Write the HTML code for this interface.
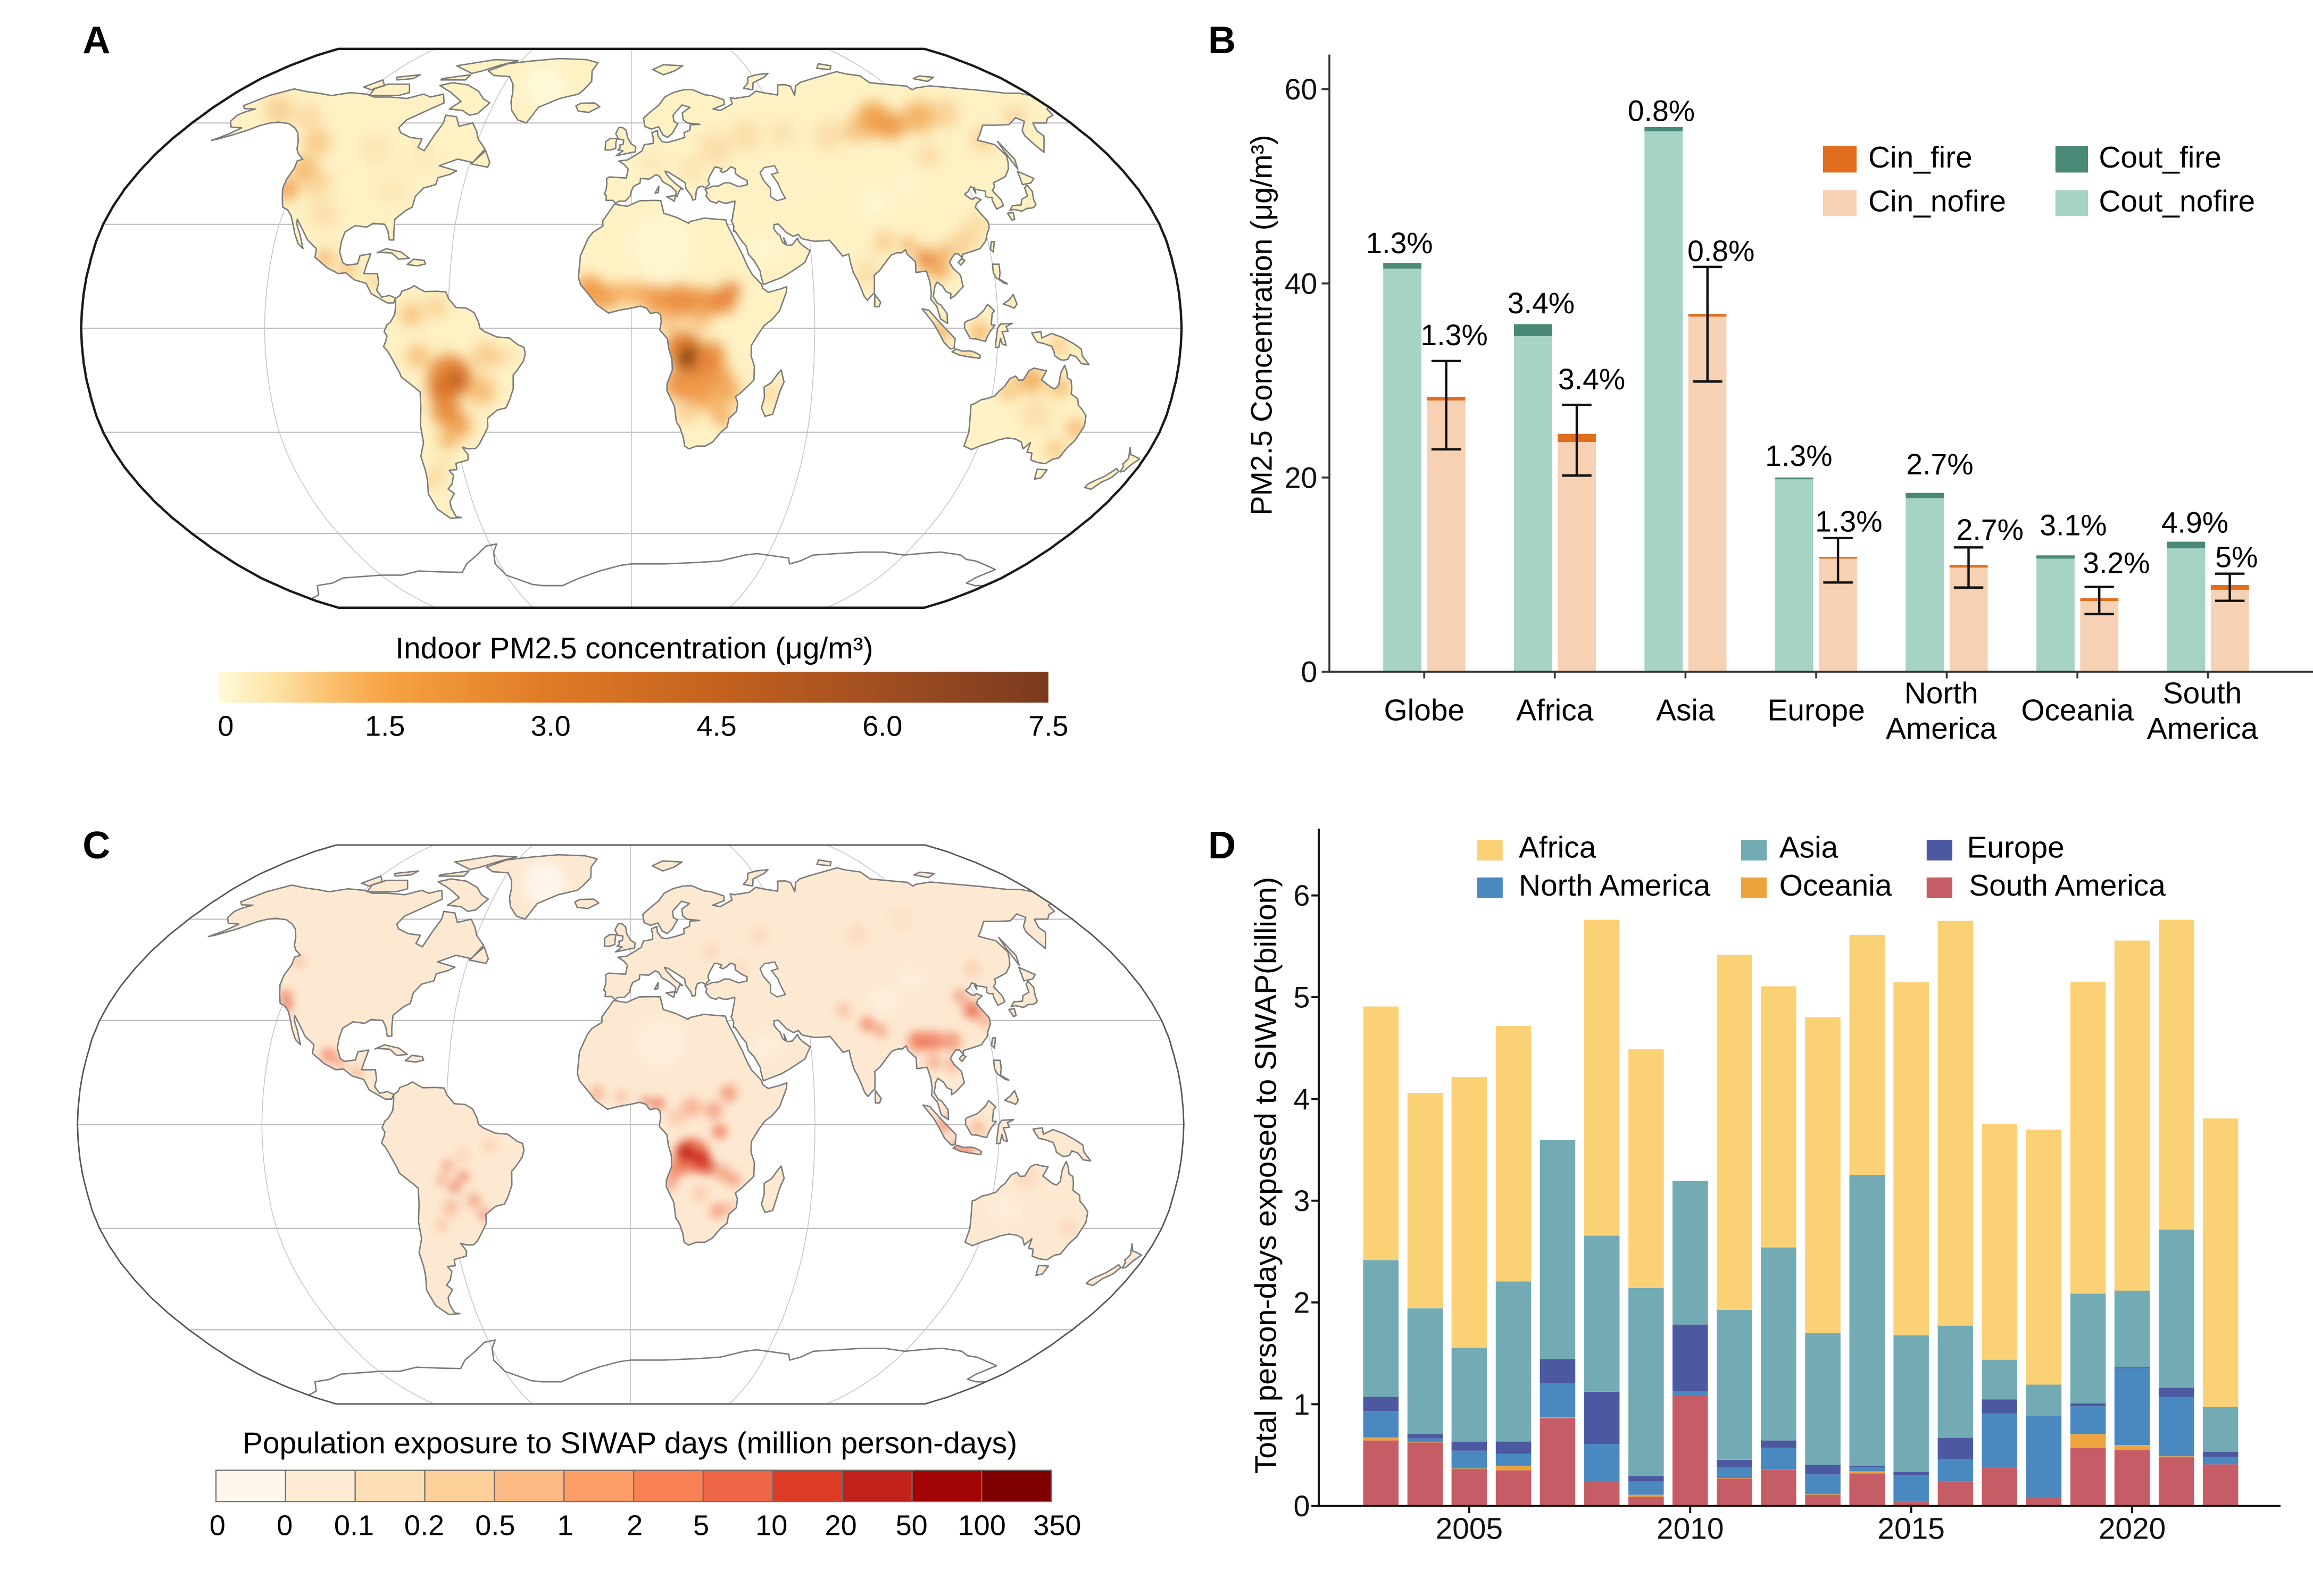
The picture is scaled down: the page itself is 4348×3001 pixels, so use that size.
<!DOCTYPE html>
<html>
<head>
<meta charset="utf-8">
<style>
html,body{margin:0;padding:0;background:#ffffff;}
svg{display:block;}
text{font-family:"Liberation Sans",Arial,sans-serif;}
</style>
</head>
<body>
<svg id="s" xmlns="http://www.w3.org/2000/svg" width="4348" height="3001" viewBox="0 0 1568 1082.25" preserveAspectRatio="none">
<defs>
<linearGradient id="cbA" x1="0" y1="0" x2="1" y2="0">
<stop offset="0" stop-color="#FFFBD8"/>
<stop offset="0.07" stop-color="#FDE2A6"/>
<stop offset="0.14" stop-color="#FABD6A"/>
<stop offset="0.2" stop-color="#F6A445"/>
<stop offset="0.3" stop-color="#EB8E33"/>
<stop offset="0.4" stop-color="#DF7A26"/>
<stop offset="0.6" stop-color="#C4621F"/>
<stop offset="0.8" stop-color="#A04E21"/>
<stop offset="1" stop-color="#7A3A1E"/>
</linearGradient>
<filter id="blurA" filterUnits="userSpaceOnUse" x="0" y="0" width="1568" height="1082"><feGaussianBlur stdDeviation="4.5"/></filter>
<filter id="blurC" filterUnits="userSpaceOnUse" x="0" y="0" width="1568" height="1082"><feGaussianBlur stdDeviation="3.2"/></filter>
</defs>
<rect x="0" y="0" width="1568" height="1082.25" fill="#ffffff"/>
<g id="mapA"></g>
<g id="mapC"></g>
<g id="barsB"></g>
<g id="barsD"></g>

<text x="56" y="36" font-size="26" font-weight="bold" fill="#000">A</text>
<text x="819" y="36" font-size="26" font-weight="bold" fill="#000">B</text>
<text x="56" y="582" font-size="26" font-weight="bold" fill="#000">C</text>
<text x="819" y="582" font-size="26" font-weight="bold" fill="#000">D</text>

<text x="430" y="446.5" font-size="20.5" text-anchor="middle" fill="#000">Indoor PM2.5 concentration (μg/m³)</text>
<rect x="148.4" y="455.5" width="562.3" height="21" fill="url(#cbA)"/>
<g font-size="19.5" text-anchor="middle" fill="#000">
<text x="153" y="499">0</text>
<text x="261" y="499">1.5</text>
<text x="373.3" y="499">3.0</text>
<text x="485.8" y="499">4.5</text>
<text x="598.2" y="499">6.0</text>
<text x="710.7" y="499">7.5</text>
</g>

<text x="427" y="985.5" font-size="20.5" text-anchor="middle" fill="#000">Population exposure to SIWAP days (million person-days)</text>
<g stroke="#6e6e6e" stroke-width="0.8">
<rect x="146.4" y="997" width="47.19" height="21.2" fill="#FFF7EC"/>
<rect x="193.59" y="997" width="47.19" height="21.2" fill="#FEEBD3"/>
<rect x="240.78" y="997" width="47.19" height="21.2" fill="#FDDFB5"/>
<rect x="287.97" y="997" width="47.19" height="21.2" fill="#FDD09A"/>
<rect x="335.16" y="997" width="47.19" height="21.2" fill="#FCBB85"/>
<rect x="382.35" y="997" width="47.19" height="21.2" fill="#FC9D68"/>
<rect x="429.54" y="997" width="47.19" height="21.2" fill="#F78154"/>
<rect x="476.73" y="997" width="47.19" height="21.2" fill="#EE6548"/>
<rect x="523.92" y="997" width="47.19" height="21.2" fill="#DC3C25"/>
<rect x="571.11" y="997" width="47.19" height="21.2" fill="#C0211A"/>
<rect x="618.3" y="997" width="47.19" height="21.2" fill="#A30404"/>
<rect x="665.49" y="997" width="47.19" height="21.2" fill="#7F0000"/>
</g>
<g font-size="19.5" text-anchor="middle" fill="#000">
<text x="147.4" y="1041">0</text>
<text x="193" y="1041">0</text>
<text x="240" y="1041">0.1</text>
<text x="287.6" y="1041">0.2</text>
<text x="335.7" y="1041">0.5</text>
<text x="383.2" y="1041">1</text>
<text x="430.3" y="1041">2</text>
<text x="475.3" y="1041">5</text>
<text x="523" y="1041">10</text>
<text x="570" y="1041">20</text>
<text x="618" y="1041">50</text>
<text x="665.6" y="1041">100</text>
<text x="716.7" y="1041">350</text>
</g>

<text transform="translate(862,220.5) rotate(-90)" font-size="20" text-anchor="middle" fill="#000">PM2.5 Concentration (μg/m³)</text>
<g font-size="20" text-anchor="end" fill="#111">
<text x="893" y="67.5">60</text>
<text x="893" y="199.2">40</text>
<text x="893" y="330.8">20</text>
<text x="893" y="462.5">0</text>
</g>
<g font-size="20.5" text-anchor="middle" fill="#000">
<text x="965.5" y="488.5">Globe</text>
<text x="1054" y="488.5">Africa</text>
<text x="1142.6" y="488.5">Asia</text>
<text x="1231.2" y="488.5">Europe</text>
<text x="1316" y="477">North</text>
<text x="1316" y="501">America</text>
<text x="1408.3" y="488.5">Oceania</text>
<text x="1493" y="477">South</text>
<text x="1493" y="501">America</text>
</g>
<g font-size="20" text-anchor="middle" fill="#000">
<text x="948.6" y="171.6">1.3%</text>
<text x="985.8" y="234">1.3%</text>
<text x="1044.7" y="212.4">3.4%</text>
<text x="1079" y="264">3.4%</text>
<text x="1126.2" y="82">0.8%</text>
<text x="1166.7" y="177">0.8%</text>
<text x="1219.4" y="316">1.3%</text>
<text x="1253.3" y="360.5">1.3%</text>
<text x="1315" y="321.7">2.7%</text>
<text x="1349" y="366">2.7%</text>
<text x="1405.5" y="362.9">3.1%</text>
<text x="1434.7" y="388.6">3.2%</text>
<text x="1487.9" y="361.2">4.9%</text>
<text x="1516.2" y="384.6">5%</text>
</g>
<rect x="1235.8" y="99.1" width="22.8" height="17.9" fill="#E06E1E"/>
<rect x="1235.8" y="128.9" width="22.8" height="17.6" fill="#F7D1B3"/>
<rect x="1393.4" y="99.1" width="22.1" height="17.9" fill="#4A8878"/>
<rect x="1393.4" y="128.9" width="22.1" height="17.6" fill="#A6D3C3"/>
<g font-size="20.5" fill="#000">
<text x="1266.5" y="113.6">Cin_fire</text>
<text x="1266.5" y="143.4">Cin_nofire</text>
<text x="1422.8" y="113.6">Cout_fire</text>
<text x="1422.8" y="143.4">Cout_nofire</text>
</g>

<text transform="translate(865,797) rotate(-90)" font-size="20.5" text-anchor="middle" fill="#000">Total person-days exposed to SIWAP(billion)</text>
<g font-size="20" text-anchor="end" fill="#111">
<text x="888" y="1028.2">0</text>
<text x="888" y="959.2">1</text>
<text x="888" y="890.2">2</text>
<text x="888" y="821.2">3</text>
<text x="888" y="752.2">4</text>
<text x="888" y="683.2">5</text>
<text x="888" y="614.2">6</text>
</g>
<g font-size="20.5" text-anchor="middle" fill="#111">
<text x="996" y="1043.5">2005</text>
<text x="1145.8" y="1043.5">2010</text>
<text x="1295.6" y="1043.5">2015</text>
<text x="1445.4" y="1043.5">2020</text>
</g>
<rect x="1001.3" y="569.5" width="17.4" height="14" fill="#FBD176"/>
<rect x="1180.3" y="569.5" width="17.4" height="14" fill="#73ABB5"/>
<rect x="1306.1" y="569.5" width="17.4" height="14" fill="#4C59A1"/>
<rect x="1001.3" y="595" width="17.4" height="14" fill="#4A89BF"/>
<rect x="1180.3" y="595" width="17.4" height="14" fill="#EDA43F"/>
<rect x="1306.1" y="595" width="17.4" height="14" fill="#C65D66"/>
<g font-size="20.5" fill="#000">
<text x="1029.6" y="581.5">Africa</text>
<text x="1206.2" y="581.5">Asia</text>
<text x="1333.4" y="581.5">Europe</text>
<text x="1029.6" y="607.3">North America</text>
<text x="1206.2" y="607.3">Oceania</text>
<text x="1334.8" y="607.3">South America</text>
</g>
</svg>
<script>
(function(){
var XT=[1,0.9986,0.9954,0.99,0.9822,0.973,0.96,0.9427,0.9216,0.8962,0.8679,0.835,0.7986,0.7597,0.7186,0.6732,0.6213,0.5722,0.5322];
var YT=[0,0.062,0.124,0.186,0.248,0.31,0.372,0.434,0.4958,0.5571,0.6176,0.6769,0.7346,0.7903,0.8435,0.8936,0.9394,0.9761,1];
function mk(cx,cy,hw,ph){
  return function(lon,lat){
    var a=Math.min(Math.abs(lat),90);
    var i=Math.min(Math.floor(a/5),17);
    var t=(a-5*i)/5;
    var x=XT[i]+(XT[i+1]-XT[i])*t;
    var y=YT[i]+(YT[i+1]-YT[i])*t;
    return [cx+hw*x*lon/180, cy-(lat<0?-1:1)*ph*y];
  };
}
function f(v){return v.toFixed(1);}
function pathOf(P,pts,close){
  var s='';
  for(var k=0;k<pts.length;k++){var q=P(pts[k][0],pts[k][1]);s+=(k?'L':'M')+f(q[0])+','+f(q[1]);}
  return s+(close===false?'':'Z');
}
var LAND=[
[[-168,65.6],[-163,69],[-156,71.3],[-148,70.3],[-141,69.7],[-135,69],[-128,70],[-120,69.5],[-115,68.5],[-108,68.5],[-100,68],[-94,69.5],[-90,68.5],[-85,69.5],[-82,66.5],[-87,64],[-93,61],[-94,58.5],[-92,57],[-87,55.5],[-82,55],[-82,52.5],[-79,51.5],[-78,56],[-77,60],[-78,62.5],[-73,62],[-70,59],[-65,60],[-62,57.5],[-60,55],[-56,52],[-59,48],[-65,49],[-71,47],[-64,45.5],[-66,44.5],[-70,43.5],[-70,41.5],[-74,40.5],[-76,38],[-76,35],[-78,34],[-81,31.5],[-80.5,28],[-80,25.5],[-81.5,25.5],[-82.5,28],[-84,30],[-88,30.3],[-90,29.2],[-94,29.6],[-97,27.8],[-97.5,25],[-97.5,22],[-96,19],[-94.5,18.2],[-91,18.6],[-90.5,21],[-87,21.5],[-88,18],[-88.5,15.8],[-84,15.8],[-83.3,13],[-83.8,11],[-82,9],[-79.5,9.5],[-77.4,8.7],[-78,7.3],[-80,7.3],[-81.5,8],[-85.5,10],[-87.5,13],[-91.5,14],[-94.5,16],[-97,15.8],[-101,17.5],[-105.5,20.5],[-105.5,23],[-109,25.5],[-112.5,29.5],[-114.5,31.5],[-114,30],[-112,27],[-110,23],[-112,24.5],[-114,27.5],[-115,29.5],[-117,32.5],[-119,34.2],[-121,35],[-122.5,37.5],[-124,40.3],[-124.5,43],[-124,46.3],[-124.7,48.4],[-123,49],[-126,50.5],[-128,52],[-130,54.5],[-133,57],[-136,58.5],[-140,59.8],[-145,60.3],[-148,60],[-151,59.2],[-154,57.8],[-157,56.6],[-162,55],[-164,54.6],[-160,56.5],[-157.5,58.5],[-162,58.7],[-165,60.5],[-165.5,62.5],[-164,63.5],[-161,64.5],[-166,64.6]],
[[-62,66.5],[-65,63],[-68,62.5],[-72,64],[-78,64.5],[-75,67],[-82,70],[-90,72.5],[-85,73.5],[-77,72.7],[-70,70.5],[-66,68]],
[[-118,69],[-105,69],[-101,70],[-105,73],[-115,73],[-119,71.5]],
[[-125,72],[-120,74.5],[-116,72.5],[-120,71]],
[[-115,75.5],[-105,76.5],[-106,75],[-113,74.5]],
[[-92,75],[-80,76.5],[-80,74.5],[-92,74.5]],
[[-80,77],[-92,80],[-75,83],[-62,82.5],[-70,80],[-76,78]],
[[-73,78],[-66,81],[-55,82.3],[-40,83.5],[-25,83],[-18,81.5],[-20,78],[-19,74],[-22,71],[-24,69.5],[-32,68],[-40,65],[-43,60],[-47,61],[-51,64],[-53,67],[-54,70],[-56,73],[-60,75.8],[-68,76.2]],
[[-59.5,47.6],[-53,46.6],[-52.7,48],[-55.5,51.5],[-57,50]],
[[-85,21.8],[-82,23],[-77,22],[-74,20.2],[-77.5,19.9],[-80,21.7],[-84,21.9]],
[[-74.5,18.4],[-72.5,19.9],[-69,19.6],[-68.4,18.6],[-71,18]],
[[-77.4,8.7],[-76,9.5],[-75.5,10.7],[-73,11.5],[-71.5,12.3],[-70,11.5],[-68,10.6],[-64,10.7],[-61,10.5],[-60,8.5],[-57.5,6],[-54,5.8],[-51.5,4.5],[-50,1.8],[-49.5,0],[-48,-1],[-44,-2.5],[-40,-2.8],[-37,-4.8],[-35.2,-5.5],[-34.8,-7.5],[-35.5,-9.5],[-37.5,-12],[-39,-13.5],[-39.2,-17.5],[-40.5,-20.5],[-42,-23],[-45,-23.6],[-48.5,-26],[-48.7,-28.5],[-50.5,-31],[-52.5,-33.5],[-54,-34.7],[-56.5,-34.8],[-58.5,-34.3],[-57,-36.5],[-57.5,-38],[-62,-39],[-62.2,-40.8],[-65,-41],[-64,-42.5],[-65.5,-45],[-67.5,-46.5],[-65.8,-47.8],[-68.5,-50.2],[-69,-52.2],[-68.5,-54.8],[-66.5,-55],[-71,-55.3],[-74.5,-52.5],[-75.5,-48],[-74,-44],[-73.5,-41],[-73.7,-37],[-71.6,-33],[-71.5,-28],[-70.5,-23],[-70.2,-18.4],[-71.5,-17.3],[-76,-14],[-76.3,-13],[-78.5,-9],[-80,-6.5],[-81.2,-5.3],[-80.3,-3.4],[-80,-2.2],[-80.9,-1],[-80,1],[-78.9,1.8],[-77.5,4],[-77.3,6.6]],
[[-17,21],[-17.5,14.7],[-16.7,12.5],[-15,10.8],[-13.3,9],[-11.5,6.9],[-7.5,4.4],[-4,5.2],[1,6],[3,6.4],[5,5.8],[6.2,4.3],[8.5,4.6],[9.5,3.9],[9.8,2],[9.3,-0.5],[11.8,-3],[12.3,-6],[13.3,-9],[13.5,-12],[11.8,-16],[11.8,-18],[14.4,-22.5],[15.2,-27],[16.5,-28.6],[17.8,-31.5],[18.4,-34],[20,-34.8],[22.5,-34],[25.5,-34],[28,-32.8],[30.5,-30],[32.5,-28.5],[32.9,-26],[35.3,-24],[35.5,-21.5],[34.7,-19.8],[36.5,-18.5],[40.5,-15],[40.5,-11],[39.3,-8],[39.3,-5],[41.5,-1.7],[43.5,0.8],[46,2.5],[48.5,5],[51,10.5],[51.2,12],[49,11.3],[45,10.4],[43.3,11.5],[42.8,12.8],[40,15.5],[38.5,18],[37.2,21],[35.7,23.9],[33.6,27.9],[32.6,29.9],[32.3,31.3],[30,31.4],[25,31.8],[20,30.8],[19.5,30.3],[15.5,32],[11.2,33.2],[10.3,36.8],[8.5,36.9],[3,36.8],[-1.5,35.2],[-5.9,35.8],[-9.8,31],[-9.7,29.5],[-13,27.7],[-14.5,26]],
[[49.3,-12],[50.5,-15.5],[49.4,-18],[47.5,-24.8],[45,-25.4],[43.6,-23],[44.3,-20],[44,-17],[46.3,-15.7],[48,-13.5]],
[[-9,43.2],[-8,43.7],[-1.8,43.4],[-1.2,46],[-2.5,47.3],[-4.7,48.4],[-1.5,48.7],[1.5,50.1],[4,51.4],[5,53.3],[8.5,53.7],[8.6,55.5],[8.2,57],[10.5,57.7],[10.5,56],[12,54.2],[14,54],[18,54.8],[21,55.5],[21,57],[23.5,57.8],[24,59.4],[28,59.6],[23,60],[21.5,61],[21.5,63.2],[25.2,65],[22,65.8],[17.5,62.5],[17.5,60.5],[19,59.8],[16.5,57],[14.3,55.5],[12.5,56.3],[11,58.8],[8,58.1],[5.5,58.9],[5,61.5],[8,63.5],[12,65.8],[15,68.5],[19,70],[24,71],[28,71.1],[31,70],[33,69.3],[36,69],[41,67.6],[40.5,66],[35,64.5],[38,64],[44,66.2],[44.2,68.3],[46,68],[53,68.8],[57,70.5],[60.5,69.9],[66,69.2],[69,72.7],[72.5,72.8],[74.5,72.2],[73.5,69],[77,72.3],[80.5,73.6],[87,74.8],[95,76.2],[104,77.7],[107,76.9],[113,76.1],[113.5,73.5],[120,73],[129,72.3],[129.5,71],[132,71.6],[140,72.4],[150,71.6],[160,70.8],[170,69.8],[176,69.8],[180,69],[180,65],[178,64.5],[177,62.5],[173,61.5],[170,60],[164.5,60],[162.5,57.5],[163,56],[161.7,55],[156.7,51],[156,53],[155.5,56],[156.8,57.7],[161.8,60.5],[160,61.7],[154,59.5],[148,59.3],[143,59.3],[138,56.3],[135.2,54.7],[140.5,53.3],[141.4,50],[140.2,48],[138.5,46],[135.5,43.8],[132.5,42.8],[130,42],[129.5,40.8],[128,39.8],[129.5,37],[129.4,35.4],[126.5,34.4],[126.3,36.8],[126.7,37.8],[125.3,37.7],[124.7,38.2],[125.5,39.6],[121.5,40.2],[121.7,39],[122.2,40.5],[121,40.9],[119,39.3],[118.2,39.1],[117.6,38.6],[118.8,37.5],[119.8,37.2],[120.8,37.8],[122.5,37.1],[120.5,36.1],[119.3,34.9],[120.8,32.5],[121.9,30.9],[121.6,29],[120.3,27.2],[119.3,25.3],[116.8,23],[114,22.2],[110.5,21.3],[110.3,20.3],[109.2,21.5],[108,21.5],[106.7,20.2],[105.8,19],[106.7,17.3],[108.8,15.3],[109.3,12],[107.5,10.5],[106.3,9.4],[104.8,8.6],[105,10],[103.5,10.6],[102.5,12.2],[100.8,13.3],[100,12.2],[99.2,9.2],[100.4,7.2],[101.4,6.8],[103.4,4.3],[103.5,1.4],[101.2,2.7],[100.1,6.4],[98.3,8.4],[98.6,10.5],[98.5,13.3],[97.7,16.5],[94.2,16.1],[94.5,19.2],[92.1,21.3],[91.8,22.7],[90.3,21.8],[88.9,21.8],[86.8,21.2],[85,19.5],[82.2,16.6],[80.3,15.3],[80.2,13.5],[79.9,10.3],[78.3,8.9],[77.5,8.1],[76.5,9.2],[75.7,11.3],[74.6,14],[73.5,16],[72.8,19.2],[72.6,21.4],[70.5,20.8],[69.2,22.4],[68.2,23.7],[66.7,25.4],[64.5,25.2],[61.5,25.1],[58.5,25.6],[57.3,25.9],[56.4,27.1],[54.7,26.5],[52.5,27.6],[50.1,30.1],[48.6,29.9],[48.4,28.6],[49.3,27.5],[50.2,26.7],[50.8,24.8],[51.6,24.2],[51.4,26.1],[52.2,23.9],[54,24.1],[56,26],[56.4,24.9],[57.4,23.9],[59.8,22.4],[58.5,20.4],[57.7,19],[55.3,17.6],[52.2,15.9],[49.5,14.6],[45.6,13.3],[43.5,12.6],[42.7,15.7],[42.8,16.3],[40.9,19.5],[39.1,21.3],[38.5,23.7],[37.2,25.1],[35.1,28.1],[34.6,28],[34.9,29.5],[34.2,31.2],[34.6,31.5],[35,33],[35.9,35.4],[36.2,36.7],[35.6,36.6],[34,36.2],[32.5,36.1],[30.6,36.7],[29.7,36.1],[27.6,36.7],[26.3,38.2],[26.8,39.1],[26.2,40],[27.3,40.4],[29,41],[31.1,41.1],[33.5,42],[35.2,42],[38.3,40.9],[41.5,41.5],[41.7,42.7],[39.9,43.4],[37.9,44.7],[38.2,46.2],[36.7,46.7],[35,45.6],[33.5,45],[32.5,45.4],[33.3,46.1],[31.7,46.6],[30.7,46.6],[29.6,45.3],[28.7,44.3],[28,43.3],[27.7,42.6],[28,41.6],[26.4,40.5],[25.4,41],[23.7,40.7],[23,39.5],[22.5,37.2],[21.5,37],[21.1,38.3],[19.4,40.3],[19.3,42],[18.5,42.5],[15.2,44.3],[13.7,45.1],[12.3,45.4],[13.1,44.2],[15.5,42],[18.4,40.1],[17.5,40.3],[16.6,39],[16.1,38],[15.6,38.3],[15.9,39.5],[14,41],[11.2,42.4],[10.2,43.9],[8.9,44.4],[6.5,43.1],[3.3,43.3],[3.1,41.9],[0.8,41],[0,39.6],[-0.3,38.3],[-2.1,36.7],[-4.4,36.7],[-5.4,36],[-6.5,36.9],[-8.9,36.9],[-8.8,38.3],[-9.5,38.7],[-8.9,40.2],[-8.8,42]],
[[-5.7,50],[1.5,51.2],[1.7,52.7],[0,53.5],[-1.5,55.5],[-2,57.6],[-3.5,58.6],[-5,58.6],[-6.2,56.7],[-5,55],[-3,54.8],[-3.2,53.4],[-4.6,53.2],[-4.3,52.3],[-5.2,51.7],[-3.2,51.5]],
[[-6,52.2],[-6,53.9],[-5.7,55.2],[-8.2,55.2],[-10,54.2],[-10,51.7],[-8,51.7]],
[[-24,65.5],[-22,66.4],[-16,66.5],[-13.6,65.2],[-18,63.4],[-22.6,63.8]],
[[11,78.5],[17,80.5],[27,80],[22,78],[16,76.5]],
[[52,71.5],[55.5,73.5],[57,75.5],[62,76.5],[68.5,77],[65,75.5],[58,73.5],[56,71]],
[[96,79],[100,81],[105,80],[102,78.5]],
[[137,75],[142,76],[148,75.5],[142,74]],
[[12.4,38],[15.6,38.3],[15,36.7]],
[[8.4,39],[9.8,41],[9.6,39.2]],
[[130.9,34],[132.5,35.4],[135.6,35.6],[136.8,37.2],[139.5,38.2],[140,40.5],[141.4,41.4],[142,39.5],[141,37.2],[140.8,35.7],[139.8,35],[138.8,34.7],[137,34.6],[135,33.8],[132.5,34.3]],
[[129.7,33.2],[131.7,33.4],[131.3,31.4],[130.3,31.2]],
[[140,41.5],[141.3,45.4],[145.5,43.3],[143.5,42]],
[[142,46],[143.5,49],[142.7,54.3],[142,51.5]],
[[120.2,22.8],[121,25],[122,25],[121,22]],
[[108.7,19],[110,20.1],[111,19.6],[109.5,18.2]],
[[79.8,6.2],[80,9.8],[81.8,7.5],[81.2,6.2]],
[[95.3,5.6],[97.5,5.2],[100.4,2.2],[103.8,-1],[106,-3],[105.8,-5.8],[104.5,-5.9],[102.3,-4],[100.4,-0.9],[98.7,1.7]],
[[105.2,-6.8],[106.5,-6],[108.5,-6.6],[111,-6.5],[112.6,-6.9],[114.5,-7.8],[114.4,-8.7],[110.5,-8.2],[107.5,-7.7]],
[[109,1.5],[109.6,2],[111.2,2.5],[113,3.2],[115.5,5.2],[116.8,6.9],[118.5,5.5],[119,5],[118.2,4.3],[117.8,1],[119,0.9],[117.5,-0.8],[116.5,-2.5],[116,-3.8],[114.5,-3.5],[113,-3.1],[111,-3],[110,-1.5],[109,0]],
[[119.3,-5.5],[120.4,-5.5],[120.9,-2.9],[121.5,-4.6],[122.8,-4.9],[121.9,-2.2],[121.3,-1],[123.3,-0.8],[122.6,0.5],[124.7,1.4],[120.8,1.2],[119.8,0],[119.4,-3.5]],
[[131,-1.3],[134,-1],[134.4,-2.8],[137.5,-1.5],[141,-2.6],[145,-4.5],[147.5,-6],[148,-8],[150.5,-10.5],[148,-10.2],[146,-8.2],[144,-7.6],[143.3,-9],[142,-9.2],[141,-9.1],[139,-8],[138.6,-6.8],[137.7,-5.2],[135,-4.4],[133,-4],[132,-2.8]],
[[120,18.5],[122.2,18.5],[122,16],[121.5,14.2],[124,12.8],[123,13],[120.6,14.5],[119.8,16]],
[[122,7],[124,8.2],[125.5,9.8],[126.5,7],[125.5,5.8],[124,6.4]],
[[113.6,-22],[114.2,-26],[115,-30],[115,-34],[118,-35],[121,-33.8],[124,-33],[126,-32.2],[129,-31.6],[132,-32],[134.2,-32.8],[135.8,-34.8],[137.5,-33],[137.8,-35.8],[139.6,-36],[140.5,-38],[143.5,-38.8],[146.4,-39.1],[148,-37.8],[150,-37.4],[150.9,-34.5],[152.5,-32.4],[153.6,-28.2],[153,-25.3],[151,-23.3],[149.5,-22.2],[148.8,-20.4],[146.3,-19],[146,-17],[145.3,-15],[144,-14.3],[143.5,-12.5],[142.5,-10.7],[141.6,-13],[141.5,-16.5],[140.5,-17.5],[139,-17],[137,-15.8],[135.5,-14.9],[136.8,-12.2],[135,-12],[132.6,-11.5],[131,-12.2],[129.5,-14.9],[128,-15],[126.8,-13.8],[125,-14.6],[123.5,-17],[122.2,-18],[121,-19.5],[118.5,-20.3],[116.7,-20.6],[114.6,-21.8]],
[[144.6,-40.7],[148.3,-40.9],[148,-43.2],[146,-43.6]],
[[172.7,-34.4],[174.5,-36.5],[175.8,-36.8],[178.5,-37.7],[177,-39.3],[176,-41.3],[175,-41.5],[174.6,-39.8],[173.8,-39.2],[174.6,-37.6]],
[[172.8,-40.5],[174.3,-41.3],[173.5,-43],[172.7,-43.6],[171,-44.5],[169.5,-46.6],[166.5,-46],[166.7,-45],[168.3,-44],[170.5,-42.8],[172,-41.4]]
];
var ANT=[[-180,-84],[-170,-82],[-160,-78],[-150,-77],[-140,-75],[-130,-74.5],[-120,-74],[-110,-74],[-100,-72.5],[-90,-72.8],[-80,-73],[-75,-70],[-68,-67],[-62,-64],[-57,-63.3],[-60,-66],[-62,-70],[-60,-74],[-50,-77.5],[-45,-78],[-35,-78],[-30,-76.5],[-25,-75],[-15,-72.5],[-5,-70.5],[0,-70],[15,-70],[30,-69.5],[40,-69],[50,-67],[55,-66.5],[65,-67.5],[70,-68],[72,-70],[76,-69],[80,-67],[90,-66.5],[100,-66],[110,-66],[120,-67],[130,-66.2],[135,-66],[145,-67],[150,-68.5],[155,-69],[160,-70],[165,-71],[170,-72],[167,-75],[168,-77],[175,-78],[180,-78]];
var CASP=[[47,45],[49,46.5],[53,47],[53.5,45],[51,44.5],[52.6,42],[53,40],[54,37.5],[51,36.8],[49,38],[49.5,40.3],[47.5,43]];

var BLOBS_A=[
[10,24,22,'#FFF8D6',.7],[45,23,12,'#FFF8D6',.6],[-40,72,14,'#FFFBDC',.9],[85,36,12,'#FFF8D6',.6],[100,42,10,'#FFF8D6',.5],[62,42,10,'#FFF6D0',.4],[122,-26,12,'#FFF5D0',.4],
[-14,11,10,'#F29A45',.95],[-9,9,9,'#F09A48',.9],[-3,10,8,'#F4AA5A',.8],[3,10,8,'#F2A252',.8],[9,8,10,'#EE9443',.9],[16,8,11,'#EB8E3E',.95],[23,7,11,'#EB8E3E',.9],[30,8,9,'#E8863A',.95],[33,11,6,'#E5803A',.9],
[12,2,8,'#F5B46C',.7],[22,2,9,'#F6BC78',.6],
[17,-6,12,'#E07A28',.95],[21,-9,10,'#B05A18',.95],[19,-8,6,'#6E3008',.95],[17,-11,5,'#8A4010',.9],[26,-8,10,'#E68C36',.9],[25,-12,11,'#E5853A',.9],[16,-16,11,'#EC8E3E',.9],[23,-18,11,'#EE9644',.9],[30,-15,9,'#F09E4C',.85],[33,-19,7,'#F2A655',.85],[28,-22,8,'#F3AE5E',.8],[31,-26,6,'#F09E4E',.8],[19,-24,8,'#F6BE7C',.65],
[46,-19,5,'#F6C07C',.75],
[-60,-14,15,'#E58535',.95],[-58,-15,8,'#C0601C',.85],[-63,-18,9,'#D9742A',.9],[-62,-24,10,'#E48432',.9],[-58,-28,8,'#EC9444',.8],[-63,-32,7,'#F0A050',.7],[-50,-18,10,'#F2A456',.65],[-48,-8,9,'#F5B46A',.6],[-70,-8,8,'#F3AA5A',.65],[-72,4,8,'#F3B064',.65],[-64,6,7,'#F5BA74',.6],[-67,-40,7,'#F8D498',.5],[-72,-44,5,'#F3B064',.55],[-42,-8,6,'#F6C484',.5],
[-122,40,7,'#EE9A48',.9],[-120,46,9,'#F3AA58',.75],[-122,54,9,'#F5BA74',.7],[-113,42,10,'#F7C484',.6],[-150,64,10,'#F5C07E',.65],[-135,62,9,'#F7C88A',.55],[-102,20,6,'#F1A055',.75],[-94,17,5,'#F09C4C',.75],[-85,14,4,'#F2AA5C',.65],[-106,33,10,'#F8D098',.5],[-98,52,10,'#F9DAA4',.5],[-85,40,10,'#F9DAA4',.4],[-78,50,9,'#FADFAC',.4],
[100,61,12,'#EF9C46',.9],[106,59,9,'#EC9442',.85],[120,62,11,'#F2A654',.8],[90,58,9,'#F5B874',.65],[132,63,10,'#F6C07E',.6],[78,56,10,'#F8CE98',.55],[138,55,8,'#F5BA78',.6],[160,62,8,'#F7C68A',.55],[112,50,8,'#F7CA90',.55],
[98,20,7,'#E8863A',.95],[102,17,7,'#EE9A48',.85],[105,22,6,'#F0A050',.75],[93,24,5,'#EE9A48',.8],[85,25,7,'#F5BA74',.65],[78,16,9,'#F8D098',.55],[112,25,9,'#F6C482',.65],[118,30,7,'#F7C88A',.55],
[101,-1,6,'#EE9A48',.85],[114,-1,6,'#F0A252',.85],[110,-7,4,'#F09C4A',.75],[140,-5,6,'#F3B064',.65],[123,10,5,'#F5BA74',.55],
[32,52,11,'#F8D29A',.6],[45,56,10,'#F7CE94',.55],[22,46,8,'#F8D6A0',.5],[8,48,7,'#F9DCAA',.45],[60,57,9,'#F8D49E',.5],
[132,-15,9,'#F1A252',.8],[142,-17,7,'#F3AE5E',.75],[125,-18,7,'#F3B064',.65],[151,-29,6,'#F09E4E',.75],[147,-35,6,'#F3AE5E',.65],[136,-25,11,'#F8D29A',.5]
];
var BLOBS_C=[
[10,24,16,'#FEF2E4',.55],[45,23,9,'#FEF2E4',.5],[-40,72,14,'#FEF6EC',.9],[88,36,9,'#FEF2E4',.55],[100,42,8,'#FEF2E4',.5],[125,-25,10,'#FEF2E4',.4],
[20,-9,12,'#EC6040',.8],[18,-8,6,'#C02018',.9],[23,-10,6,'#C82A1E',.85],[25,-12,6,'#D8402A',.75],[15,-13,6,'#EE6A4A',.7],[13,-17,5,'#F08060',.6],[29,-2,5,'#EE6A4A',.75],[27,4,6,'#F08060',.6],[20,5,7,'#F4926C',.55],[9,6,4,'#E85A3C',.8],[5,6.5,3,'#D84030',.75],[-11,9,5,'#F4926C',.6],[-3,8,4,'#F4926C',.5],[32,9,6,'#F08060',.65],[30,-14,6,'#F08868',.6],[34,-16,5,'#F08060',.6],[29,-25,5,'#EE7050',.6],[33,-24,4,'#F4926C',.5],[23,-20,6,'#F8B894',.5],[15,2,6,'#F6A686',.45],
[-55,-15,4,'#EA6040',.6],[-60,-12,4,'#EE7050',.55],[-58,-18,4,'#E24E32',.6],[-52,-22,5,'#EE7050',.5],[-49,-26,4,'#E85A3C',.55],[-60,-24,6,'#F4A07A',.5],[-64,-29,4,'#F4926C',.45],[-46,-6,5,'#F8B894',.45],[-62,-16,4,'#F08060',.5],[-55,-9,5,'#F8B894',.4],
[-120,37,4,'#E85A3C',.75],[-118,34,3,'#D84030',.8],[-100,20,5,'#EE7050',.7],[-96,18,4,'#F08060',.6],[-90,15,4,'#F4926C',.55],[-122,47,4,'#F4926C',.45],
[80,29,5,'#EE7050',.7],[84,27,5,'#F08060',.55],[96,24,7,'#EE6A4A',.75],[101,24,7,'#EE6A4A',.7],[107,24,7,'#F08060',.65],[117,33,6,'#E85A3C',.75],[115,37,5,'#F08060',.6],[120,30,5,'#F4926C',.55],[106,17,5,'#F4926C',.55],[100,18,5,'#F08060',.55],[102,0,5,'#EE7050',.7],[110,-7,4,'#E85A3C',.8],[106,-6.5,3.5,'#E04A30',.75],[113,-1,5,'#F4926C',.55],[124,45,6,'#F8B894',.45],[50,55,6,'#F8C8A8',.45],[88,55,8,'#F8C8A8',.4],[30,50,6,'#F8C8A8',.45],[73,33,5,'#F4926C',.45],[110,60,9,'#FAD3B8',.35],[40,45,6,'#F8C8A8',.35],
[130,-15,8,'#F8C8A8',.45],[148,-30,6,'#F8C0A0',.4]
];

function build(gid,P,opt){
  var s='';
  var fr=[],la;
  for(la=90;la>=-90;la-=1) fr.push([-180,la]);
  for(la=-90;la<=90;la+=1) fr.push([180,la]);
  var fd=pathOf(P,fr);
  s+='<path d="'+fd+'" fill="#ffffff"/>';
  var lats=[-60,-30,0,30,60];
  for(var k=0;k<lats.length;k++){
    var a=P(-180,lats[k]),b=P(180,lats[k]);
    s+='<line x1="'+f(a[0])+'" y1="'+f(a[1])+'" x2="'+f(b[0])+'" y2="'+f(b[1])+'" stroke="'+opt.latc+'" stroke-width="0.75"/>';
  }
  var lons=[-120,-60,0,60,120];
  for(k=0;k<lons.length;k++){
    var m=[];for(la=-90;la<=90;la+=2) m.push([lons[k],la]);
    s+='<path d="'+pathOf(P,m,false)+'" fill="none" stroke="#c4c4c4" stroke-width="0.55"/>';
  }
  var ld='';
  for(k=0;k<LAND.length;k++) ld+=pathOf(P,LAND[k]);
  s+='<clipPath id="clip'+gid+'"><path d="'+ld+'"/></clipPath>';
  s+='<path d="'+ld+'" fill="'+opt.base+'"/>';
  s+='<g clip-path="url(#clip'+gid+')"><g filter="url(#'+opt.filt+')">';
  var B=opt.blobs;
  for(k=0;k<B.length;k++){
    var q=P(B[k][0],B[k][1]);
    s+='<circle cx="'+f(q[0])+'" cy="'+f(q[1])+'" r="'+B[k][2]+'" fill="'+B[k][3]+'" fill-opacity="'+B[k][4]+'"/>';
  }
  s+='</g></g>';
  s+='<path d="'+pathOf(P,CASP)+'" fill="#ffffff" stroke="#7a7a7a" stroke-width="0.9"/>';
  s+='<path d="'+ld+'" fill="none" stroke="#7a7a7a" stroke-width="0.95" stroke-linejoin="round"/>';
  s+='<path d="'+pathOf(P,ANT,false)+'" fill="none" stroke="#7a7a7a" stroke-width="0.95" stroke-linejoin="round"/>';
  s+='<path d="'+fd+'" fill="none" stroke="'+opt.frame+'" stroke-width="'+opt.fw+'"/>';
  document.getElementById(gid).innerHTML=s;
}
build('mapA',mk(428,222.6,373,189.5),{base:'#FEF1C4',blobs:BLOBS_A,filt:'blurA',latc:'#b8b8b8',frame:'#1a1a1a',fw:1.6});
build('mapC',mk(427.5,762.5,375,189.5),{base:'#FDE9D2',blobs:BLOBS_C,filt:'blurC',latc:'#b8b8b8',frame:'#555555',fw:1.0});

var BD=[[42.08,41.57,28.3,27.97,32.0,22.9],[35.8,34.6,24.5,23.7,27.5,20.2],[56.1,55.7,36.85,36.6,41.7,29.9],[20.0,19.85,11.83,11.68,13.76,9.19],[18.43,17.92,11.0,10.76,12.8,8.68],[11.98,11.68,7.56,7.31,8.73,5.94],[13.4,12.74,8.93,8.48,10.1,7.31]];
function yB(v){return 455.5-6.5833*v;}
var s='';
for(var i=0;i<BD.length;i++){
  var b=BD[i],tx=937.7+i*88.55,ox=967.4+i*88.55,w=25.9,cx=ox+w/2;
  s+='<rect x="'+f(tx)+'" y="'+f(yB(b[1]))+'" width="'+w+'" height="'+f(455.5-yB(b[1]))+'" fill="#A6D3C3"/>';
  s+='<rect x="'+f(tx)+'" y="'+f(yB(b[0]))+'" width="'+w+'" height="'+f(yB(b[1])-yB(b[0])+0.2)+'" fill="#4A8878"/>';
  s+='<rect x="'+f(ox)+'" y="'+f(yB(b[3]))+'" width="'+w+'" height="'+f(455.5-yB(b[3]))+'" fill="#F7D1B3"/>';
  s+='<rect x="'+f(ox)+'" y="'+f(yB(b[2]))+'" width="'+w+'" height="'+f(yB(b[3])-yB(b[2])+0.2)+'" fill="#E06E1E"/>';
  s+='<g stroke="#111" stroke-width="1.6" fill="none"><line x1="'+f(cx)+'" y1="'+f(yB(b[4]))+'" x2="'+f(cx)+'" y2="'+f(yB(b[5]))+'"/>';
  s+='<line x1="'+f(cx-10)+'" y1="'+f(yB(b[4]))+'" x2="'+f(cx+10)+'" y2="'+f(yB(b[4]))+'"/>';
  s+='<line x1="'+f(cx-10)+'" y1="'+f(yB(b[5]))+'" x2="'+f(cx+10)+'" y2="'+f(yB(b[5]))+'"/></g>';
}
s+='<g stroke="#333" stroke-width="1.3">';
s+='<line x1="901.2" y1="37" x2="901.2" y2="456"/>';
s+='<line x1="900.5" y1="455.5" x2="1568" y2="455.5"/>';
for(var t=0;t<=60;t+=20){var yy=yB(t);s+='<line x1="896" y1="'+f(yy)+'" x2="901.2" y2="'+f(yy)+'"/>';}
for(i=0;i<7;i++){var gx=965.5+i*88.55;s+='<line x1="'+f(gx)+'" y1="455.5" x2="'+f(gx)+'" y2="460"/>';}
s+='</g>';
document.getElementById('barsB').innerHTML=s;

var DD=[[0.644,0.674,0.934,1.073,2.416,4.908],[0.624,0.629,0.664,0.709,1.942,4.059],[0.364,0.369,0.544,0.634,1.553,4.214],[0.349,0.394,0.514,0.634,2.207,4.718],[0.864,0.874,1.203,1.443,3.595,3.595],[0.235,0.235,0.609,1.123,2.656,5.761],[0.090,0.110,0.240,0.295,2.142,4.488],[1.088,1.088,1.123,1.782,3.195,3.195],[0.270,0.275,0.379,0.454,1.927,5.417],[0.359,0.364,0.574,0.644,2.541,5.107],[0.110,0.115,0.310,0.404,1.702,4.803],[0.320,0.339,0.379,0.394,3.255,5.612],[0.050,0.050,0.300,0.335,1.677,5.147],[0.240,0.240,0.459,0.669,1.772,5.751],[0.379,0.379,0.909,1.048,1.438,3.754],[0.085,0.085,0.884,0.889,1.193,3.699],[0.569,0.704,0.979,1.008,2.087,5.152],[0.549,0.599,1.353,1.363,2.117,5.557],[0.479,0.489,1.073,1.163,2.716,5.761],[0.409,0.409,0.484,0.534,0.974,3.809]];
var DC=['#C65D66','#EDA43F','#4A89BF','#4C59A1','#73ABB5','#FBD176'];
function yD(v){return 1021.2-69*v;}
s='';
for(i=0;i<DD.length;i++){
  var x=924.1+i*29.96,prev=0;
  for(var j=0;j<6;j++){
    var v=DD[i][j];
    if(v-prev>0.0005){
      s+='<rect x="'+f(x)+'" y="'+f(yD(v))+'" width="24" height="'+(yD(prev)-yD(v)).toFixed(2)+'" fill="'+DC[j]+'"/>';
    }
    prev=v;
  }
}
s+='<g stroke="#111" stroke-width="1.4">';
s+='<line x1="894" y1="562" x2="894" y2="1021.9"/>';
s+='<line x1="893.3" y1="1021.2" x2="1546" y2="1021.2"/>';
for(t=0;t<=6;t++){var y2=yD(t);s+='<line x1="889" y1="'+f(y2)+'" x2="894" y2="'+f(y2)+'"/>';}
var yrs=[2005,2010,2015,2020];
for(i=0;i<4;i++){var xx=936.1+(yrs[i]-2003)*29.96;s+='<line x1="'+f(xx)+'" y1="1021.2" x2="'+f(xx)+'" y2="1026"/>';}
s+='</g>';
document.getElementById('barsD').innerHTML=s;
})();
</script>
</body>
</html>
